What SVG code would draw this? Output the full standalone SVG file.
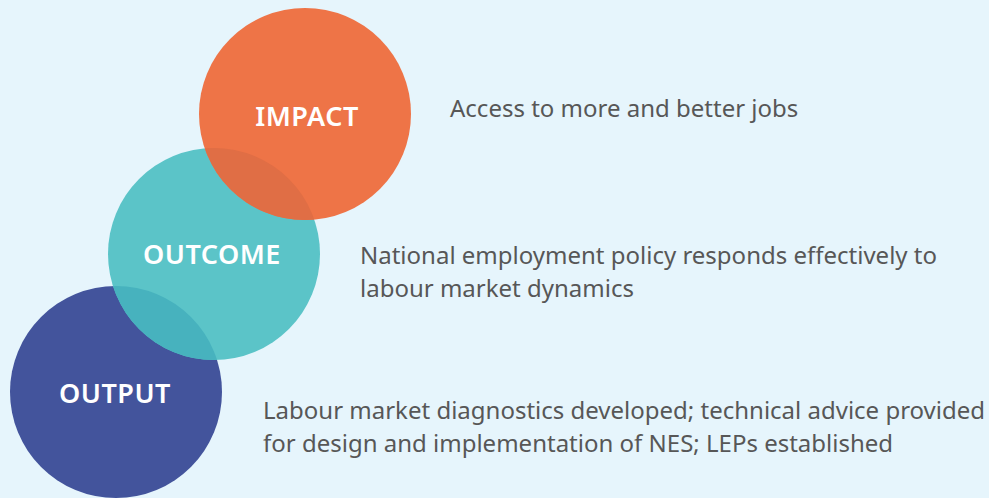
<svg xmlns="http://www.w3.org/2000/svg" width="989" height="498" viewBox="0 0 989 498">
<style>
.lbl{font-family:"Noto Sans","Open Sans","DejaVu Sans",sans-serif;font-weight:600;font-size:27px;fill:#ffffff;text-anchor:middle;letter-spacing:0.5px}
.txt{font-family:"Noto Sans","Open Sans","DejaVu Sans",sans-serif;font-size:24px;fill:#575757}
</style>
<defs>
<clipPath id="cImpact"><circle cx="305" cy="114" r="106"/></clipPath>
<clipPath id="cOutcome"><circle cx="214" cy="254" r="106"/></clipPath>
</defs>
<rect width="989" height="498" fill="#e6f5fc"/>
<g id="output">
<circle cx="116" cy="392" r="106" fill="#43549c"/>
</g>
<g id="outcome">
<circle cx="214" cy="254" r="106" fill="#5bc4c8"/>
<circle cx="116" cy="392" r="106" fill="#47b2be" clip-path="url(#cOutcome)"/>
</g>
<g id="impact">
<circle cx="305" cy="114" r="106" fill="#ee7447"/>
<circle cx="214" cy="254" r="106" fill="#e06e45" clip-path="url(#cImpact)"/>
</g>
<g id="labels">
<text class="lbl" x="307" y="126">IMPACT</text>
<text class="lbl" x="212" y="264">OUTCOME</text>
<text class="lbl" x="115" y="403">OUTPUT</text>
</g>
<g id="descriptions">
<text class="txt" x="450" y="116.5">Access to more and better jobs</text>
<text class="txt" x="360" y="263.5">National employment policy responds effectively to</text>
<text class="txt" x="360" y="296.5">labour market dynamics</text>
<text class="txt" x="263" y="418.5">Labour market diagnostics developed; technical advice provided</text>
<text class="txt" x="263" y="451.5">for design and implementation of NES; LEPs established</text>
</g>
</svg>
